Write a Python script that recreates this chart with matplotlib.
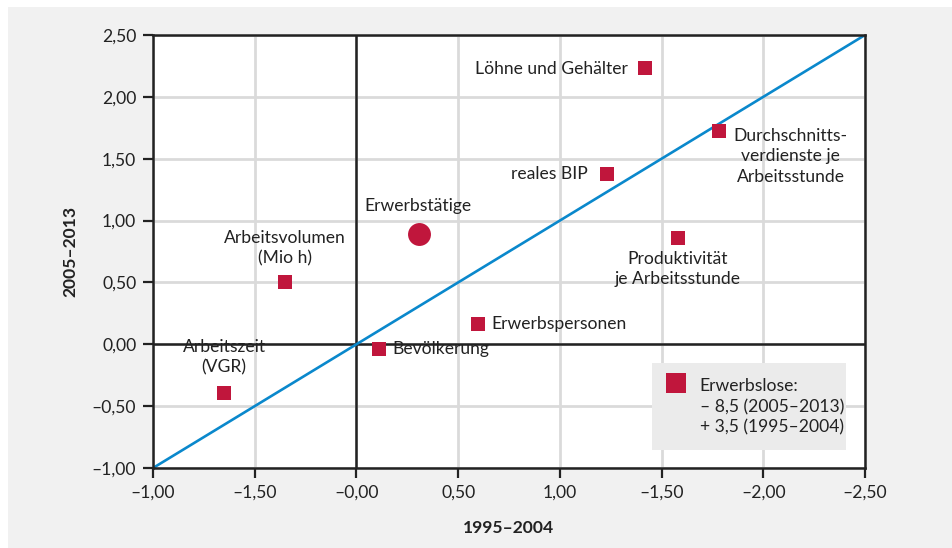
import matplotlib.pyplot as plt
from matplotlib.patches import Rectangle

plt.rcParams['font.family'] = ['Lato', 'DejaVu Sans']

# data
names = ['Löhne und Gehälter', 'Durchschnitts-\nverdienste je\nArbeitsstunde', 'reales BIP',
         'Produktivität\nje Arbeitsstunde', 'Arbeitsvolumen\n(Mio h)', 'Erwerbspersonen',
         'Bevölkerung', 'Arbeitszeit\n(VGR)']
x_9504 = [1.42, 1.78, 1.23, 1.58, -0.35, 0.60, 0.11, -0.65]
y_0513 = [2.23, 1.72, 1.38, 0.86, 0.50, 0.16, -0.04, -0.39]
erw_name = 'Erwerbstätige'
erw_x, erw_y = 0.31, 0.89

xticks = [-1.0, -0.5, 0.0, 0.5, 1.0, 1.5, 2.0, 2.5]
xticklabels = ['–1,00', '–1,50', '–0,00', '0,50', '1,00', '–1,50', '–2,00', '–2,50']
yticks = [-1.0, -0.5, 0.0, 0.5, 1.0, 1.5, 2.0, 2.5]
yticklabels = ['–1,00', '–0,50', '0,00', '0,50', '1,00', '1,50', '2,00', '2,50']

# label offsets in pixels (dx, dy, ha)
offsets = [(-17, -1, 'right'), (72, -25, 'center'), (-19, 0, 'right'), (0, -31, 'center'),
           (0, 34, 'center'), (13, 0, 'left'), (14, 0, 'left'), (0, 35, 'center')]

red = '#c0163c'
blue = '#0a88cc'
txt = '#222222'
fs = 12.6

fig = plt.figure(figsize=(9.53, 5.48), dpi=100)
fig.patch.set_facecolor('white')
fig.patches.append(Rectangle((8 / 953, 0), 1, 541 / 548, transform=fig.transFigure,
                             facecolor='#f1f1f1', edgecolor='none', zorder=-10))
ax = fig.add_axes([153 / 953, 80 / 548, 712 / 953, 433 / 548])
ax.set_facecolor('white')
ax.set_xlim(-1, 2.5)
ax.set_ylim(-1, 2.5)

ax.set_xticks(xticks)
ax.set_xticklabels(xticklabels)
ax.set_yticks(yticks)
ax.set_yticklabels(yticklabels)
ax.tick_params(length=7, width=1.6, color='#222222', labelsize=fs, labelcolor=txt, pad=5)
ax.grid(True, color='#dadada', linewidth=2.0, zorder=0)
ax.set_axisbelow(True)
for s in ax.spines.values():
    s.set_color('#222222')
    s.set_linewidth(1.8)

ax.axhline(0, color='#222222', lw=1.8, zorder=1)
ax.axvline(0, color='#222222', lw=1.8, zorder=1)
ax.plot([-1, 2.5], [-1, 2.5], color=blue, lw=1.9, zorder=2)

ax.scatter(x_9504, y_0513, marker='s', s=10 ** 2, color=red, linewidths=0, zorder=4)
ax.scatter([erw_x], [erw_y], marker='o', s=16.5 ** 2, color=red, linewidths=0, zorder=4)

for n, xv, yv, (dx, dy, ha) in zip(names, x_9504, y_0513, offsets):
    ax.annotate(n, (xv, yv), xytext=(dx, dy), textcoords='offset pixels', ha=ha,
                va='center', multialignment='center', fontsize=fs, color=txt,
                linespacing=1.35, zorder=5)
ax.annotate(erw_name, (erw_x, erw_y), xytext=(-2, 28), textcoords='offset pixels',
            ha='center', va='center', fontsize=fs, color=txt, zorder=5)

# Erwerbslose box
ax.add_patch(Rectangle((0.701, 0.042), 0.272, 0.201, transform=ax.transAxes,
                       facecolor='#ebebeb', edgecolor='none', zorder=3))
ax.scatter([0.7346], [0.196], marker='s', s=14.4 ** 2, color=red, linewidths=0,
           transform=ax.transAxes, zorder=4)
ax.text(0.768, 0.141, 'Erwerbslose:\n– 8,5 (2005–2013)\n+ 3,5 (1995–2004)',
        transform=ax.transAxes, ha='left', va='center', fontsize=fs, color=txt,
        linespacing=1.35, zorder=5)

ax.set_xlabel('1995–2004', fontsize=fs, fontweight='bold', color=txt, labelpad=14)
ax.set_ylabel('2005–2013', fontsize=fs, fontweight='bold', color=txt, labelpad=10)

fig.savefig('out.png', dpi=100, facecolor=fig.get_facecolor())
